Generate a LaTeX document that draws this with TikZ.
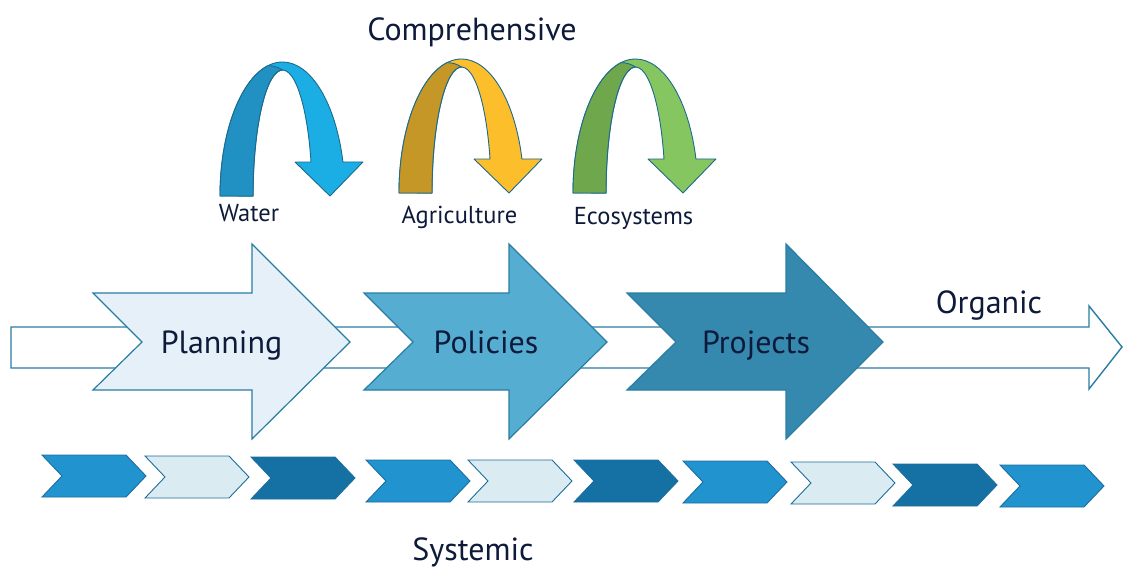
\documentclass[tikz,border=0pt]{standalone}
\usepackage{fontspec}
\setmainfont{PT Sans}
\definecolor{txt}{HTML}{0E1A3A}
\definecolor{edge}{HTML}{2A7CA2}
\definecolor{archedge}{HTML}{1D6A8C}
\definecolor{planfill}{HTML}{E5F0F8}
\definecolor{polfill}{HTML}{55ADD1}
\definecolor{projfill}{HTML}{3689AE}
\definecolor{waterback}{HTML}{2190C3}
\definecolor{waterfront}{HTML}{1BAEE5}
\definecolor{agriback}{HTML}{C59726}
\definecolor{agrifront}{HTML}{FDBE2C}
\definecolor{ecoback}{HTML}{6FA74D}
\definecolor{ecofront}{HTML}{86C660}
\definecolor{chevmid}{HTML}{2193CF}
\definecolor{chevlight}{HTML}{DBEBF2}
\definecolor{chevdark}{HTML}{1571A4}
\definecolor{chevedge}{HTML}{1C6E9C}
\tikzset{
  bigarrow/.style={draw=edge,line width=1.2pt,line join=miter},
  arch/.style={draw=archedge,line width=0.9pt,line join=round},
  chev/.style={draw=chevedge,line width=0.9pt,fill=#1},
  bigtext/.style={text=txt,font=\fontsize{32}{38}\selectfont,anchor=base},
  smalltext/.style={text=txt,font=\fontsize{24.5}{29}\selectfont,anchor=base}
}
% u-turn ribbon: #1 left x, #2 base y, #3 back colour, #4 front colour
\newcommand{\uturn}[4]{%
\draw[arch,fill=#4] (#1,#2) arc[start angle=180,end angle=345.3,x radius=62.5,y radius=134]
  -- ++(20,0) -- (#1+110,#2) -- (#1+75,#2-34) -- (#1+91,#2-34)
  arc[start angle=344.3,end angle=180,x radius=29.5,y radius=126] -- cycle;
\draw[arch,fill=#3] (#1,#2) arc[start angle=180,end angle=256.6,x radius=62.5,y radius=134]
  to[bend left=15] (#1+62.5,#2-126)
  arc[start angle=270,end angle=180,x radius=29.5,y radius=126] -- cycle;
}
\begin{document}
\begin{tikzpicture}[x=1pt,y=-1pt]
\useasboundingbox (0,0) rectangle (1124,567);
% long arrow
\draw[draw=edge,line width=1.4pt,fill=white] (11,327) -- (1089,327) -- (1089,306)
  -- (1122,347) -- (1089,389) -- (1089,368) -- (11,368) -- cycle;
% big arrows: left / head start / tip
\foreach \l/\h/\t/\c in {93/252/350/planfill,364/509/607/polfill,627/786/883/projfill}{
  \draw[bigarrow,fill=\c] (\l,293) -- (\h,293) -- (\h,244) -- (\t,342) -- (\h,439)
    -- (\h,390) -- (\l,390) -- (\l+49,342) -- cycle;
}
\node[bigtext] (planning) at (221.5,353) {Planning};
\node[bigtext] (policies) at (486,353) {Policies};
\node[bigtext] (projects) at (756,353) {Projects};
\node[bigtext] (organic) at (989,313) {Organic};
% u-turns
\uturn{220}{196}{waterback}{waterfront}
\uturn{399}{193}{agriback}{agrifront}
\uturn{573}{193}{ecoback}{ecofront}
\node[smalltext] (water) at (249,221) {Water};
\node[smalltext] (agri) at (459.5,223) {Agriculture};
\node[smalltext] (eco) at (633.5,224) {Ecosystems};
\node[bigtext] (comp) at (472,41) {Comprehensive};
% chevron row
\foreach \x/\y/\c in {42/476/chevmid,145/477/chevlight,251/478/chevdark,366/481/chevmid,
  468/481/chevlight,574/481/chevdark,683/482/chevmid,791/483/chevlight,
  893/485/chevdark,1000/486/chevmid}{
  \draw[chev=\c] (\x,\y-21) -- (\x+84,\y-21) -- (\x+104,\y) -- (\x+84,\y+21)
    -- (\x,\y+21) -- (\x+20,\y) -- cycle;
}
\node[bigtext] (systemic) at (473,560) {Systemic};
\end{tikzpicture}
\end{document}
